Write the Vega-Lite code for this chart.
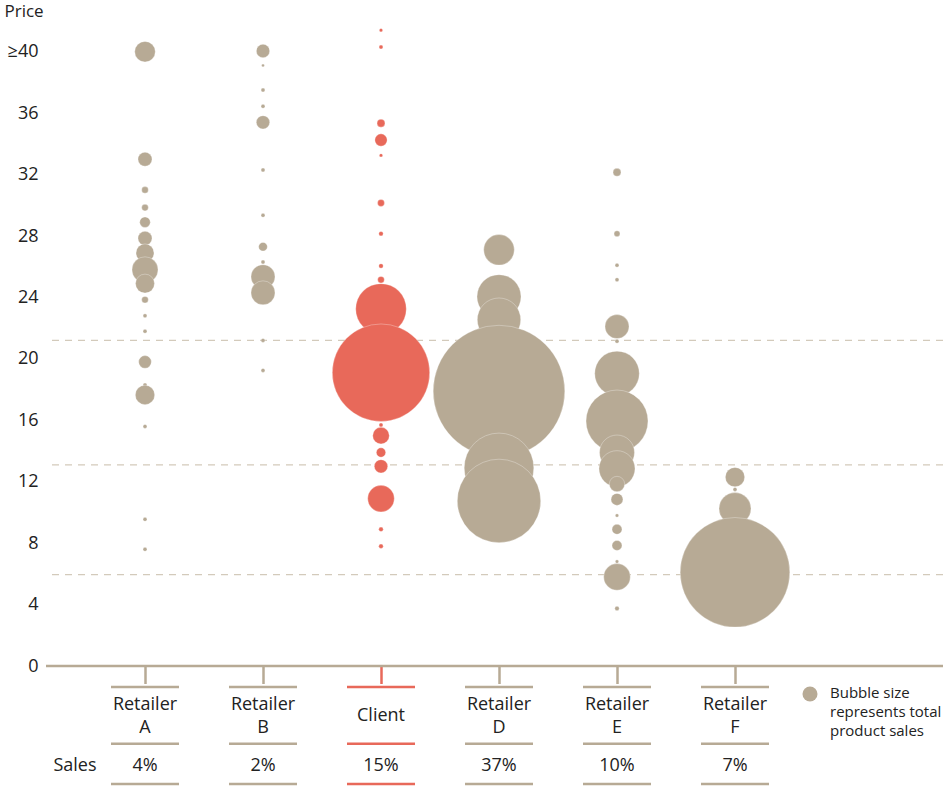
{
  "$schema": "https://vega.github.io/schema/vega-lite/v6.json",
  "background": "white",
  "padding": {"left": 4, "top": 2, "right": 5, "bottom": 0},
  "spacing": 0,
  "config": {
    "view": {"stroke": null},
    "font": "Open Sans",
    "axis": {"labelFont": "Open Sans", "titleFont": "Open Sans"}
  },
  "datasets": {
    "bubbles": [
      {"retailer": "Retailer A", "price": 40.0, "sales": 106},
      {"retailer": "Retailer A", "price": 33.0, "sales": 49},
      {"retailer": "Retailer A", "price": 31.0, "sales": 11},
      {"retailer": "Retailer A", "price": 29.85, "sales": 11},
      {"retailer": "Retailer A", "price": 28.9, "sales": 28},
      {"retailer": "Retailer A", "price": 27.85, "sales": 49},
      {"retailer": "Retailer A", "price": 26.9, "sales": 81},
      {"retailer": "Retailer A", "price": 25.8, "sales": 169},
      {"retailer": "Retailer A", "price": 24.9, "sales": 90},
      {"retailer": "Retailer A", "price": 23.85, "sales": 11},
      {"retailer": "Retailer A", "price": 22.8, "sales": 4},
      {"retailer": "Retailer A", "price": 21.8, "sales": 4},
      {"retailer": "Retailer A", "price": 19.8, "sales": 40},
      {"retailer": "Retailer A", "price": 18.3, "sales": 4},
      {"retailer": "Retailer A", "price": 17.65, "sales": 94},
      {"retailer": "Retailer A", "price": 15.6, "sales": 4},
      {"retailer": "Retailer A", "price": 9.55, "sales": 4},
      {"retailer": "Retailer A", "price": 7.6, "sales": 4},
      {"retailer": "Retailer B", "price": 40.05, "sales": 45},
      {"retailer": "Retailer B", "price": 39.1, "sales": 2},
      {"retailer": "Retailer B", "price": 37.5, "sales": 4},
      {"retailer": "Retailer B", "price": 36.45, "sales": 4},
      {"retailer": "Retailer B", "price": 35.4, "sales": 45},
      {"retailer": "Retailer B", "price": 32.3, "sales": 4},
      {"retailer": "Retailer B", "price": 29.35, "sales": 4},
      {"retailer": "Retailer B", "price": 27.3, "sales": 19},
      {"retailer": "Retailer B", "price": 26.3, "sales": 4},
      {"retailer": "Retailer B", "price": 25.35, "sales": 144},
      {"retailer": "Retailer B", "price": 24.3, "sales": 144},
      {"retailer": "Retailer B", "price": 21.2, "sales": 4},
      {"retailer": "Retailer B", "price": 19.25, "sales": 4},
      {"retailer": "Client", "price": 41.4, "sales": 3},
      {"retailer": "Client", "price": 40.3, "sales": 4},
      {"retailer": "Client", "price": 35.35, "sales": 16},
      {"retailer": "Client", "price": 34.25, "sales": 38},
      {"retailer": "Client", "price": 33.25, "sales": 3},
      {"retailer": "Client", "price": 30.15, "sales": 12},
      {"retailer": "Client", "price": 28.15, "sales": 5},
      {"retailer": "Client", "price": 26.05, "sales": 5},
      {"retailer": "Client", "price": 25.15, "sales": 11},
      {"retailer": "Client", "price": 23.25, "sales": 640},
      {"retailer": "Client", "price": 19.1, "sales": 2372},
      {"retailer": "Client", "price": 15.7, "sales": 4},
      {"retailer": "Client", "price": 15.0, "sales": 69},
      {"retailer": "Client", "price": 13.9, "sales": 22},
      {"retailer": "Client", "price": 13.0, "sales": 45},
      {"retailer": "Client", "price": 10.9, "sales": 177},
      {"retailer": "Client", "price": 8.9, "sales": 5},
      {"retailer": "Client", "price": 7.8, "sales": 5},
      {"retailer": "Retailer D", "price": 27.1, "sales": 234},
      {"retailer": "Retailer D", "price": 24.05, "sales": 484},
      {"retailer": "Retailer D", "price": 22.55, "sales": 471},
      {"retailer": "Retailer D", "price": 17.9, "sales": 4330},
      {"retailer": "Retailer D", "price": 12.9, "sales": 1211},
      {"retailer": "Retailer D", "price": 10.75, "sales": 1739},
      {"retailer": "Retailer E", "price": 32.15, "sales": 16},
      {"retailer": "Retailer E", "price": 28.15, "sales": 9},
      {"retailer": "Retailer E", "price": 26.1, "sales": 4},
      {"retailer": "Retailer E", "price": 25.15, "sales": 4},
      {"retailer": "Retailer E", "price": 22.1, "sales": 144},
      {"retailer": "Retailer E", "price": 21.15, "sales": 4},
      {"retailer": "Retailer E", "price": 19.05, "sales": 497},
      {"retailer": "Retailer E", "price": 15.95, "sales": 961},
      {"retailer": "Retailer E", "price": 13.9, "sales": 306},
      {"retailer": "Retailer E", "price": 12.85, "sales": 324},
      {"retailer": "Retailer E", "price": 11.85, "sales": 59},
      {"retailer": "Retailer E", "price": 10.85, "sales": 36},
      {"retailer": "Retailer E", "price": 9.8, "sales": 3},
      {"retailer": "Retailer E", "price": 8.9, "sales": 25},
      {"retailer": "Retailer E", "price": 7.85, "sales": 25},
      {"retailer": "Retailer E", "price": 6.8, "sales": 3},
      {"retailer": "Retailer E", "price": 5.8, "sales": 177},
      {"retailer": "Retailer E", "price": 3.75, "sales": 5},
      {"retailer": "Retailer F", "price": 12.3, "sales": 94},
      {"retailer": "Retailer F", "price": 11.5, "sales": 4},
      {"retailer": "Retailer F", "price": 10.25, "sales": 256},
      {"retailer": "Retailer F", "price": 6.1, "sales": 3003}
    ],
    "tiers": [
      {"price": 21.2},
      {"price": 13.1},
      {"price": 5.95}
    ],
    "baseline": [
      {"price": 0}
    ],
    "shares": [
      {"retailer": "Retailer A", "line1": "Retailer", "line2": "A", "share": 0.04},
      {"retailer": "Retailer B", "line1": "Retailer", "line2": "B", "share": 0.02},
      {"retailer": "Client", "line1": "Client", "line2": "", "share": 0.15},
      {"retailer": "Retailer D", "line1": "Retailer", "line2": "D", "share": 0.37},
      {"retailer": "Retailer E", "line1": "Retailer", "line2": "E", "share": 0.10},
      {"retailer": "Retailer F", "line1": "Retailer", "line2": "F", "share": 0.07}
    ]
  },
  "vconcat": [
    {
      "width": 897,
      "height": 645,
      "encoding": {
        "y": {
          "field": "price",
          "type": "quantitative",
          "scale": {"domain": [0, 42], "nice": false, "zero": true},
          "axis": {
            "title": "Price",
            "titleAngle": 0,
            "titleAlign": "left",
            "titleBaseline": "middle",
            "titleX": -42,
            "titleY": -10,
            "titleFontSize": 17,
            "titleFontWeight": "normal",
            "titleColor": "#222222",
            "values": [0, 4, 8, 12, 16, 20, 24, 28, 32, 36, 40],
            "labelExpr": "datum.value >= 40 ? '≥40' : datum.label",
            "labelFontSize": 18,
            "labelColor": "#222222",
            "labelPadding": 8,
            "ticks": false,
            "tickSize": 0,
            "domain": false,
            "grid": false
          }
        }
      },
      "layer": [
        {
          "data": {"name": "tiers"},
          "mark": {"type": "rule", "stroke": "#d3cabb", "strokeWidth": 1.2, "strokeDash": [7, 6]}
        },
        {
          "data": {"name": "bubbles"},
          "mark": {"type": "circle", "opacity": 1, "stroke": "#ffffff", "strokeWidth": 0.6, "strokeOpacity": 0.5},
          "encoding": {
            "x": {
              "field": "retailer",
              "type": "nominal",
              "sort": null,
              "scale": {
                "type": "point",
                "padding": 0,
                "domain": ["Retailer A", "Retailer B", "Client", "Retailer D", "Retailer E", "Retailer F"],
                "range": [99, 689]
              },
              "axis": {
                "title": null,
                "labels": false,
                "ticks": true,
                "tickSize": 17.5,
                "tickWidth": 2.5,
                "tickColor": {"condition": {"test": "datum.value === 'Client'", "value": "#e8695a"}, "value": "#b7aa95"},
                "domain": false,
                "grid": false
              }
            },
            "size": {
              "field": "sales",
              "type": "quantitative",
              "scale": {"type": "linear", "domain": [0, 4330], "range": [0, 17320], "zero": true},
              "legend": null
            },
            "color": {"condition": {"test": "datum.retailer === 'Client'", "value": "#e8695a"}, "value": "#b7aa95"}
          }
        },
        {
          "data": {"name": "baseline"},
          "mark": {"type": "rule", "stroke": "#b7aa95", "strokeWidth": 2.5}
        }
      ]
    },
    {
      "width": 897,
      "height": 97,
      "data": {"name": "shares"},
      "encoding": {
        "x": {
          "field": "retailer",
          "type": "nominal",
          "sort": null,
          "scale": {
            "type": "point",
            "padding": 0,
            "domain": ["Retailer A", "Retailer B", "Client", "Retailer D", "Retailer E", "Retailer F"],
            "range": [99, 689]
          },
          "axis": null
        },
        "color": {"condition": {"test": "datum.retailer === 'Client'", "value": "#e8695a"}, "value": "#b7aa95"}
      },
      "layer": [
        {
          "mark": {"type": "rule", "strokeWidth": 2.5, "xOffset": -34, "x2Offset": 34},
          "encoding": {
            "x2": {"field": "retailer"},
            "y": {"datum": "r1", "type": "nominal", "scale": {"type": "point", "padding": 0, "domain": ["r1", "l1", "l2", "r2", "sales", "r3"]}, "axis": null}
          }
        },
        {
          "mark": {"type": "rule", "strokeWidth": 2.5, "xOffset": -34, "x2Offset": 34, "yOffset": -1.5},
          "encoding": {
            "x2": {"field": "retailer"},
            "y": {"datum": "r2", "type": "nominal", "scale": {"type": "point", "padding": 0, "domain": ["r1", "l1", "l2", "r2", "sales", "r3"]}, "axis": null}
          }
        },
        {
          "mark": {"type": "rule", "strokeWidth": 2.5, "xOffset": -34, "x2Offset": 34},
          "encoding": {
            "x2": {"field": "retailer"},
            "y": {"datum": "r3", "type": "nominal", "scale": {"type": "point", "padding": 0, "domain": ["r1", "l1", "l2", "r2", "sales", "r3"]}, "axis": null}
          }
        },
        {
          "transform": [{"filter": "datum.retailer !== 'Client'"}],
          "mark": {"type": "text", "fontSize": 18, "baseline": "middle", "dy": -1},
          "encoding": {
            "y": {"datum": "l1", "type": "nominal"},
            "text": {"field": "line1"},
            "color": {"value": "#222222"}
          }
        },
        {
          "transform": [{"filter": "datum.retailer !== 'Client'"}],
          "mark": {"type": "text", "fontSize": 18, "baseline": "middle", "dy": 2},
          "encoding": {
            "y": {"datum": "l2", "type": "nominal"},
            "text": {"field": "line2"},
            "color": {"value": "#222222"}
          }
        },
        {
          "transform": [{"filter": "datum.retailer === 'Client'"}],
          "mark": {"type": "text", "fontSize": 18, "baseline": "middle", "dy": 9.6},
          "encoding": {
            "y": {"datum": "l1", "type": "nominal"},
            "text": {"field": "line1"},
            "color": {"value": "#222222"}
          }
        },
        {
          "mark": {"type": "text", "fontSize": 18, "baseline": "middle", "dy": 1.5},
          "encoding": {
            "y": {"datum": "sales", "type": "nominal"},
            "text": {"field": "share", "type": "quantitative", "format": ".0%"},
            "color": {"value": "#222222"}
          }
        },
        {
          "data": {"values": [{"label": "Sales"}]},
          "mark": {"type": "text", "fontSize": 18, "baseline": "middle", "dy": 1.5, "dx": -70},
          "encoding": {
            "x": {"datum": "Retailer A"},
            "y": {"datum": "sales", "type": "nominal"},
            "text": {"field": "label"},
            "color": {"value": "#222222"}
          }
        },
        {
          "data": {"values": [{"label": "Bubble size represents total product sales"}]},
          "mark": {"type": "circle", "opacity": 1, "size": 225, "xOffset": 75, "yOffset": 7},
          "encoding": {
            "x": {"datum": "Retailer F"},
            "y": {"datum": "r1", "type": "nominal"},
            "color": {"value": "#b7aa95"}
          }
        },
        {
          "data": {"values": [{"label": "Bubble size\nrepresents total\nproduct sales"}]},
          "mark": {"type": "text", "fontSize": 15, "align": "left", "baseline": "middle", "lineBreak": "\n", "lineHeight": 19, "dx": 95, "dy": 5.5},
          "encoding": {
            "x": {"datum": "Retailer F"},
            "y": {"datum": "r1", "type": "nominal"},
            "text": {"field": "label"},
            "color": {"value": "#222222"}
          }
        }
      ]
    }
  ]
}
